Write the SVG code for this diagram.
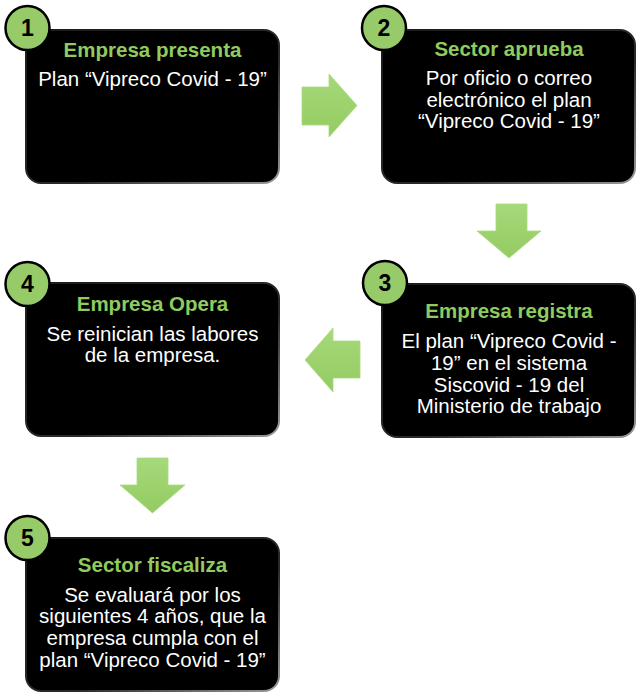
<svg xmlns="http://www.w3.org/2000/svg" width="643" height="700" viewBox="0 0 643 700">
<defs>
<linearGradient id="edge" x1="0" y1="0" x2="1" y2="1">
<stop offset="0" stop-color="#1a1a1a"/>
<stop offset="0.6" stop-color="#2a2a2a"/>
<stop offset="1" stop-color="#9a9a9a"/>
</linearGradient>
<linearGradient id="arr" x1="0" y1="0" x2="0" y2="1">
<stop offset="0" stop-color="#a6d97a"/>
<stop offset="1" stop-color="#94cb62"/>
</linearGradient>
</defs>
<style>
.box{fill:#000;stroke:url(#edge);stroke-width:2}
.num{fill:#97cb69;stroke:#000;stroke-width:2.5}
.n{font-family:"Liberation Sans",Arial,sans-serif;font-weight:bold;font-size:23px;fill:#000;text-anchor:middle}
.t{font-family:"Liberation Sans",Arial,sans-serif;font-weight:bold;font-size:20.5px;fill:#8fcb5e;text-anchor:middle}
.b{font-family:"Liberation Sans",Arial,sans-serif;font-size:20.5px;fill:#fff;text-anchor:middle}
.a{fill:url(#arr);stroke:#a9db80;stroke-width:0.8}
</style>
<g id="connectors">
<polygon class="a" points="302,87 329,87 329,74 357,105.5 329,137 329,125 302,125"/>
<polygon class="a" points="496,204 527,204 527,231 541,231 509,258 477,231 496,231"/>
<polygon class="a" points="360,341 333,341 333,328 305,360 333,392 333,378 360,378"/>
<polygon class="a" points="137,458 168,458 168,485 185,485 152.5,513 120,485 137,485"/>
</g>
<g id="node1">
<rect class="box" x="26" y="30" width="253" height="153" rx="15"/>
<circle class="num" cx="27.5" cy="28" r="22"/>
<text class="n" x="27.5" y="36">1</text>
<text class="t" x="152.5" y="57">Empresa presenta</text>
<text class="b" x="152.5" y="86">Plan “Vipreco Covid - 19”</text>
</g>
<g id="node2">
<rect class="box" x="382" y="30" width="253" height="153" rx="15"/>
<circle class="num" cx="384" cy="28" r="22"/>
<text class="n" x="384" y="36">2</text>
<text class="t" x="509" y="56">Sector aprueba</text>
<text class="b" x="509" y="85">Por oficio o correo</text>
<text class="b" x="509" y="107">electrónico el plan</text>
<text class="b" x="509" y="128">“Vipreco Covid - 19”</text>
</g>
<g id="node3">
<rect class="box" x="382" y="284" width="253" height="153" rx="15"/>
<circle class="num" cx="385" cy="283" r="22"/>
<text class="n" x="385" y="291">3</text>
<text class="t" x="509" y="318">Empresa registra</text>
<text class="b" x="509" y="348">El plan “Vipreco Covid -</text>
<text class="b" x="509" y="370">19” en el sistema</text>
<text class="b" x="509" y="392">Siscovid - 19 del</text>
<text class="b" x="509" y="413">Ministerio de trabajo</text>
</g>
<g id="node4">
<rect class="box" x="26" y="283" width="253" height="153" rx="15"/>
<circle class="num" cx="27.5" cy="284" r="22"/>
<text class="n" x="27.5" y="292">4</text>
<text class="t" x="152.5" y="311">Empresa Opera</text>
<text class="b" x="152.5" y="341">Se reinician las labores</text>
<text class="b" x="152.5" y="362">de la empresa.</text>
</g>
<g id="node5">
<rect class="box" x="26" y="538" width="253" height="153" rx="15"/>
<circle class="num" cx="27.5" cy="538" r="22"/>
<text class="n" x="27.5" y="546">5</text>
<text class="t" x="152.5" y="572">Sector fiscaliza</text>
<text class="b" x="152.5" y="602">Se evaluará por los</text>
<text class="b" x="152.5" y="623">siguientes 4 años, que la</text>
<text class="b" x="152.5" y="645">empresa cumpla con el</text>
<text class="b" x="152.5" y="667">plan “Vipreco Covid - 19”</text>
</g>
</svg>
